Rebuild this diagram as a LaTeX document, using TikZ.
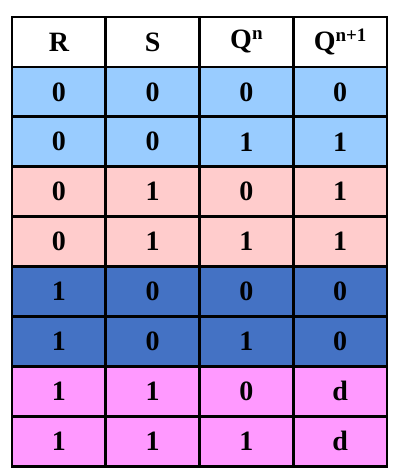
\documentclass[tikz,border=0pt]{standalone}
\usepackage{fontspec}
\setmainfont{Liberation Serif}
\usepackage{tikz}
\definecolor{lightblue}{HTML}{99CCFF}
\definecolor{lightpink}{HTML}{FFCCCC}
\definecolor{darkblue}{HTML}{4472C4}
\definecolor{violet}{HTML}{FF99FF}
\newcommand{\upper}[1]{\raisebox{9pt}{\fontsize{19}{22}\selectfont #1}}
\tikzstyle{cell} = [draw, line width=2.8pt, minimum width=93.75pt, minimum height=49.9pt, inner sep=0pt, outer sep=0pt, font=\fontsize{28}{32}\selectfont\bfseries]
\tikzstyle{head} = [cell, fill=white]
\tikzstyle{blue} = [cell, fill=lightblue]
\tikzstyle{pink} = [cell, fill=lightpink]
\tikzstyle{dark} = [cell, fill=darkblue]
\tikzstyle{magenta} = [cell, fill=violet]

\begin{document}
\begin{tikzpicture}[x=1pt, y=-1pt]
	\useasboundingbox (0, 0) rectangle (405, 476);
	\node[head](hR) at (58.9, 42){R};
	\node[head](hS) at (152.6, 42){S};
	\node[head](hQ) at (246.4, 42){Q\upper{n}};
	\node[head](hQn) at (340.1, 42){Q\upper{n+1}};

	\node[blue](aR) at (58.9, 91.9){0};
	\node[blue](aS) at (152.6, 91.9){0};
	\node[blue](aQ) at (246.4, 91.9){0};
	\node[blue](aQn) at (340.1, 91.9){0};
	\node[blue](bR) at (58.9, 141.8){0};
	\node[blue](bS) at (152.6, 141.8){0};
	\node[blue](bQ) at (246.4, 141.8){1};
	\node[blue](bQn) at (340.1, 141.8){1};

	\node[pink](cR) at (58.9, 191.7){0};
	\node[pink](cS) at (152.6, 191.7){1};
	\node[pink](cQ) at (246.4, 191.7){0};
	\node[pink](cQn) at (340.1, 191.7){1};
	\node[pink](dR) at (58.9, 241.6){0};
	\node[pink](dS) at (152.6, 241.6){1};
	\node[pink](dQ) at (246.4, 241.6){1};
	\node[pink](dQn) at (340.1, 241.6){1};

	\node[dark](eR) at (58.9, 291.5){1};
	\node[dark](eS) at (152.6, 291.5){0};
	\node[dark](eQ) at (246.4, 291.5){0};
	\node[dark](eQn) at (340.1, 291.5){0};
	\node[dark](fR) at (58.9, 341.4){1};
	\node[dark](fS) at (152.6, 341.4){0};
	\node[dark](fQ) at (246.4, 341.4){1};
	\node[dark](fQn) at (340.1, 341.4){0};

	\node[magenta](gR) at (58.9, 391.3){1};
	\node[magenta](gS) at (152.6, 391.3){1};
	\node[magenta](gQ) at (246.4, 391.3){0};
	\node[magenta](gQn) at (340.1, 391.3){d};
	\node[magenta](hR1) at (58.9, 441.2){1};
	\node[magenta](hS1) at (152.6, 441.2){1};
	\node[magenta](hQ1) at (246.4, 441.2){1};
	\node[magenta](hQn1) at (340.1, 441.2){d};
\end{tikzpicture}
\end{document}
